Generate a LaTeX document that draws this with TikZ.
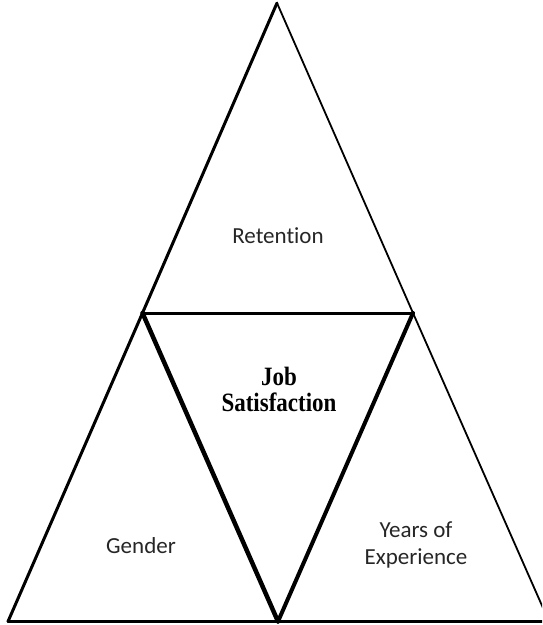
\documentclass[tikz,border=0pt]{standalone}
\usepackage{fontspec}
\usepackage{graphicx}
\setmainfont{Carlito}[Ligatures={NoCommon}]
\newfontfamily\serifbold{Liberation Serif}
\begin{document}
\begin{tikzpicture}[x=1pt,y=-1pt,
  thinedge/.style={line width=1.8pt,line cap=round,line join=round},
  thickedge/.style={line width=3pt,line cap=round,line join=round},
  heavyedge/.style={line width=4.5pt,line cap=round,line join=round},
  label/.style={font=\fontsize{23}{27}\selectfont,text=black!85,align=center,inner sep=0pt},
  core/.style={font=\serifbold\bfseries\fontsize{23}{26}\selectfont,align=center,inner sep=0pt}]
  \useasboundingbox (0,0) rectangle (542,625);
  \clip (0,0) rectangle (542,625);
  % corners of the large triangle and midpoints of its sides
  \coordinate (apex) at (277,3);
  \coordinate (ml) at (142.5,313);
  \coordinate (mr) at (413,313);
  \coordinate (bl) at (8,621.5);
  \coordinate (bm) at (278,621.5);
  \coordinate (br) at (549,621.5);
  % outer edges
  \draw[thickedge] (apex) -- (ml);
  \draw[thinedge] (apex) -- (mr);
  \draw[thickedge] (ml) -- (bl);
  \draw[thinedge] (mr) -- (br);
  \draw[thickedge] (bl) -- (br);
  % inner triangle
  \draw[thickedge] (ml) -- (mr);
  \draw[heavyedge] (ml) -- (bm);
  \draw[line width=4pt,line cap=round] (mr) -- (bm);
  % labels
  \node[label] (ret) at (278,236) {Retention};
  \node[label] (gen) at (141,546) {Gender};
  \node[label] (yrs) at (416,545) {Years of\\Experience};
  \node[core] (job) at (279,389) {\scalebox{1}[1.15]{Job}\\\scalebox{1}[1.15]{Satisfaction}};
\end{tikzpicture}
\end{document}
